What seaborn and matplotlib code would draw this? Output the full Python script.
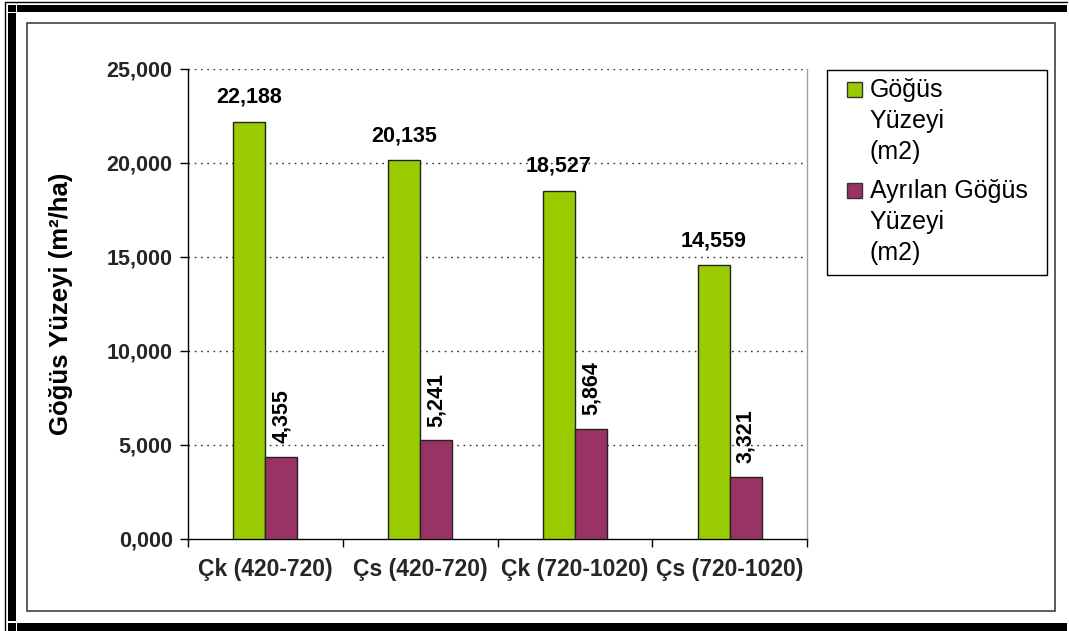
import matplotlib
matplotlib.use("Agg")
import matplotlib.pyplot as plt
from matplotlib.patches import Rectangle
from matplotlib.lines import Line2D
from matplotlib.legend_handler import HandlerPatch
from matplotlib.ticker import FixedLocator, FuncFormatter
import seaborn as sns
import pandas as pd

# ---- data ----
categories = ["Çk (420-720)", "Çs (420-720)", "Çk (720-1020)", "Çs (720-1020)"]
series_names = ["Göğüs\nYüzeyi\n(m2)", "Ayrılan Göğüs\nYüzeyi\n(m2)"]
gogus_yuzeyi = [22.188, 20.135, 18.527, 14.559]
ayrilan_gogus_yuzeyi = [4.355, 5.241, 5.864, 3.321]
y_ticks = [0, 5, 10, 15, 20, 25]
y_label = "Göğüs Yüzeyi (m²/ha)"

colors = ["#99CC00", "#993366"]

df = pd.DataFrame({
    "kategori": categories * 2,
    "seri": [series_names[0]] * 4 + [series_names[1]] * 4,
    "deger": gogus_yuzeyi + ayrilan_gogus_yuzeyi,
})


def tr_fmt(v):
    return f"{v:,.3f}".replace(".", ",")


sns.set_theme(style="white")
plt.rcParams["font.family"] = ["Liberation Sans", "DejaVu Sans"]

W, H = 1069, 631
fig = plt.figure(figsize=(W / 100, H / 100), dpi=100)
fig.patch.set_facecolor("white")

# page-style border around the chart
def fx(px):
    return px / W

def fy(py):
    return 1 - py / H

def frect(x0, y0, x1, y1, color="black"):
    fig.add_artist(Rectangle((fx(x0), fy(y1)), fx(x1) - fx(x0), fy(y0) - fy(y1),
                             transform=fig.transFigure, facecolor=color,
                             edgecolor="none", zorder=0))

frect(17, 5, 1067, 12)      # top band
frect(8, 5, 16, 12)         # top-left corner piece
frect(8, 13, 16, 621)       # left band
frect(8, 623, 16, 631)      # bottom-left corner piece
frect(17, 623, 1067, 631)   # bottom band
fig.add_artist(Line2D([fx(5), fx(1067)], [fy(1.5), fy(1.5)], transform=fig.transFigure,
                      color="black", lw=1))
fig.add_artist(Line2D([fx(5), fx(5)], [fy(1.5), fy(631)], transform=fig.transFigure,
                      color="black", lw=1))
# chart area frame
fig.add_artist(Rectangle((fx(27), fy(611)), fx(1055) - fx(27), fy(23) - fy(611),
                         transform=fig.transFigure, facecolor="none",
                         edgecolor="#404040", lw=1.2))

ax = fig.add_axes([fx(188), fy(539), fx(807) - fx(188), fy(69) - fy(539)])
ax.set_facecolor("white")

sns.barplot(data=df, x="kategori", y="deger", hue="seri", palette=colors,
            width=0.414, edgecolor="#222222", linewidth=1.0, saturation=1,
            legend=False, ax=ax, zorder=3)

ax.set_xlim(-0.5, 3.5)
ax.set_ylim(0, 25)
ax.set_xlabel("")
ax.set_ylabel(y_label, fontsize=18.5, fontweight="bold", color="black")
ax.yaxis.set_label_coords(-0.185, 0.5)

ax.yaxis.set_major_locator(FixedLocator(y_ticks))
ax.yaxis.set_major_formatter(FuncFormatter(lambda v, p: tr_fmt(v)))
ax.tick_params(axis="y", which="major", length=6, width=1, color="black",
               direction="out", pad=5, labelsize=15.5, left=True)
for lab in ax.get_yticklabels():
    lab.set_fontweight("bold")

ax.xaxis.set_minor_locator(FixedLocator([-0.5, 0.5, 1.5, 2.5, 3.5]))
ax.tick_params(axis="x", which="minor", length=6, width=1, color="black",
               direction="out", bottom=True)
ax.tick_params(axis="x", which="major", length=0, pad=14, labelsize=16.5)
for lab in ax.get_xticklabels():
    lab.set_fontweight("bold")

ax.grid(False)
for v in y_ticks[1:]:
    ax.axhline(v, color="#333333", lw=1, linestyle=(0, (1.2, 3.3)), zorder=1)

ax.spines["top"].set_visible(False)
ax.spines["left"].set_color("black")
ax.spines["left"].set_linewidth(1)
ax.spines["bottom"].set_color("black")
ax.spines["bottom"].set_linewidth(1)
ax.spines["right"].set_color("#a0a0a0")
ax.spines["right"].set_linewidth(1)

# value labels
green_bars, purple_bars = ax.containers[0], ax.containers[1]
ax.bar_label(green_bars, labels=[tr_fmt(v) for v in gogus_yuzeyi], padding=10,
             fontsize=15.5, fontweight="bold", color="black")
ax.bar_label(purple_bars, labels=[tr_fmt(v) for v in ayrilan_gogus_yuzeyi], padding=10,
             fontsize=15.5, fontweight="bold", color="black", rotation=90)


class TopSquare(HandlerPatch):
    """Legend key drawn as a small square aligned with the first text line."""

    def create_artists(self, legend, orig_handle, xdescent, ydescent, width, height,
                       fontsize, trans):
        size = 0.6 * fontsize
        off = 0.48 * fontsize
        top = height - ydescent
        p = Rectangle((-xdescent + off, top - size), size, size,
                      facecolor=orig_handle.get_facecolor(), edgecolor="#333333",
                      lw=1, transform=trans)
        return [p]


handles = [green_bars.patches[0], purple_bars.patches[0]]
leg = fig.legend(handles, series_names, loc="upper left",
                 bbox_to_anchor=(fx(827), fy(70), fx(1047) - fx(827), 0),
                 bbox_transform=fig.transFigure, mode="expand", borderaxespad=0,
                 fontsize=18, frameon=True, fancybox=False, edgecolor="black",
                 framealpha=1, handlelength=1.08, handleheight=4.79,
                 handletextpad=0.32, labelspacing=0.5, borderpad=0.3,
                 handler_map={Rectangle: TopSquare()})
leg.get_frame().set_linewidth(1)
for t in leg.get_texts():
    t.set_linespacing(1.38)
    t.set_color("black")

fig.savefig("out.png", dpi=100, facecolor="white")
